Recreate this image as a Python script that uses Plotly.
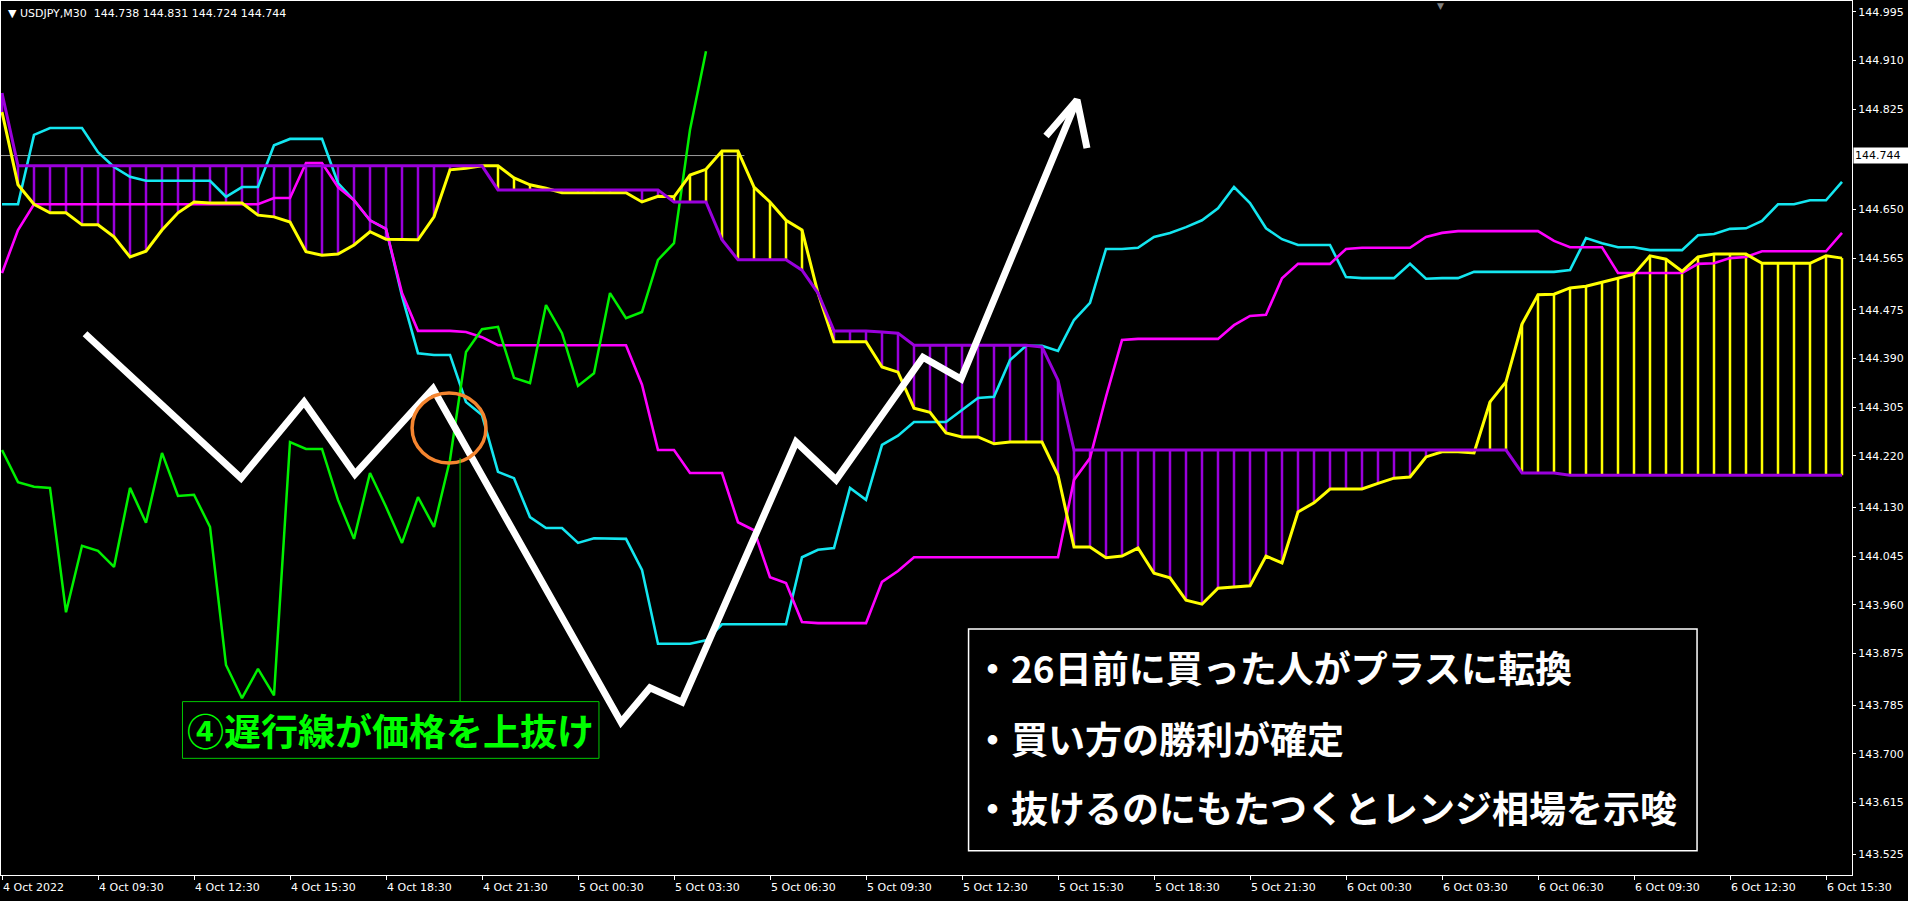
import plotly.graph_objects as go

# ---------------- data ----------------
bars = list(range(116))

tenkan = [
    144.659, 144.659, 144.780, 144.792, 144.792, 144.792, 144.750, 144.724, 144.707, 144.700,
    144.700, 144.700, 144.700, 144.700, 144.672, 144.689, 144.689, 144.762, 144.773, 144.773,
    144.773, 144.696, 144.666, 144.631, 144.616, 144.499, 144.399, 144.396, 144.396, 144.314,
    144.291, 144.192, 144.181, 144.113, 144.094, 144.094, 144.068, 144.076, 144.076, 144.075,
    144.021, 143.892, 143.892, 143.892, 143.898, 143.926, 143.926, 143.926, 143.926, 143.926,
    144.043, 144.056, 144.059, 144.164, 144.143, 144.239, 144.255, 144.279, 144.279, 144.279,
    144.300, 144.321, 144.323, 144.387, 144.412, 144.412, 144.403, 144.457, 144.487, 144.581,
    144.581, 144.583, 144.602, 144.609, 144.619, 144.631, 144.652, 144.689, 144.661, 144.617,
    144.598, 144.588, 144.588, 144.588, 144.532, 144.530, 144.530, 144.530, 144.555, 144.529,
    144.530, 144.530, 144.541, 144.541, 144.541, 144.541, 144.541, 144.541, 144.544, 144.600,
    144.591, 144.584, 144.584, 144.579, 144.579, 144.579, 144.605, 144.607, 144.616, 144.617,
    144.630, 144.659, 144.659, 144.666, 144.666, 144.698,
]

kijun = [
    144.539, 144.614, 144.659, 144.659, 144.659, 144.659, 144.659, 144.659, 144.659, 144.659,
    144.659, 144.659, 144.659, 144.659, 144.659, 144.659, 144.659, 144.670, 144.670, 144.731,
    144.731, 144.689, 144.666, 144.631, 144.616, 144.504, 144.438, 144.438, 144.438, 144.436,
    144.427, 144.413, 144.413, 144.413, 144.413, 144.413, 144.413, 144.413, 144.413, 144.413,
    144.344, 144.230, 144.230, 144.190, 144.190, 144.190, 144.104, 144.090, 144.008, 143.998,
    143.930, 143.928, 143.928, 143.928, 143.928, 144.000, 144.019, 144.043, 144.043, 144.043,
    144.043, 144.043, 144.043, 144.043, 144.043, 144.043, 144.043, 144.178, 144.216, 144.323,
    144.422, 144.424, 144.424, 144.424, 144.424, 144.424, 144.424, 144.448, 144.464, 144.466,
    144.530, 144.555, 144.555, 144.555, 144.581, 144.583, 144.583, 144.583, 144.583, 144.602,
    144.609, 144.612, 144.612, 144.612, 144.612, 144.612, 144.612, 144.595, 144.584, 144.584,
    144.584, 144.539, 144.539, 144.539, 144.539, 144.539, 144.555, 144.556, 144.565, 144.567,
    144.577, 144.577, 144.577, 144.577, 144.577, 144.609,
]

span_a = [
    144.820, 144.693, 144.659, 144.644, 144.644, 144.623, 144.623, 144.602, 144.567, 144.577,
    144.614, 144.644, 144.663, 144.661, 144.661, 144.661, 144.640, 144.637, 144.628, 144.576,
    144.570, 144.572, 144.588, 144.611, 144.598, 144.597, 144.597, 144.637, 144.719, 144.722,
    144.726, 144.726, 144.705, 144.693, 144.687, 144.679, 144.679, 144.679, 144.679, 144.679,
    144.663, 144.673, 144.672, 144.710, 144.720, 144.752, 144.752, 144.689, 144.663, 144.631,
    144.614, 144.504, 144.419, 144.419, 144.419, 144.375, 144.366, 144.303, 144.296, 144.260,
    144.253, 144.253, 144.241, 144.244, 144.244, 144.244, 144.186, 144.061, 144.061, 144.042,
    144.045, 144.059, 144.015, 144.007, 143.968, 143.961, 143.989, 143.991, 143.993, 144.045,
    144.033, 144.122, 144.138, 144.162, 144.162, 144.162, 144.172, 144.181, 144.183, 144.218,
    144.227, 144.227, 144.225, 144.314, 144.349, 144.450, 144.501, 144.502, 144.513, 144.516,
    144.523, 144.530, 144.537, 144.569, 144.563, 144.542, 144.567, 144.572, 144.572, 144.572,
    144.556, 144.556, 144.556, 144.556, 144.569, 144.565,
]

span_b = [
    144.853, 144.726, 144.726, 144.726, 144.726, 144.726, 144.726, 144.726, 144.726, 144.726,
    144.726, 144.726, 144.726, 144.726, 144.726, 144.726, 144.726, 144.726, 144.726, 144.726,
    144.726, 144.726, 144.726, 144.726, 144.726, 144.726, 144.726, 144.726, 144.726, 144.726,
    144.726, 144.684, 144.684, 144.684, 144.684, 144.684, 144.684, 144.684, 144.684, 144.684,
    144.684, 144.684, 144.663, 144.663, 144.663, 144.597, 144.562, 144.562, 144.562, 144.562,
    144.544, 144.504, 144.438, 144.438, 144.438, 144.436, 144.434, 144.413, 144.413, 144.413,
    144.413, 144.413, 144.413, 144.413, 144.413, 144.410, 144.352, 144.230, 144.230, 144.230,
    144.230, 144.230, 144.230, 144.230, 144.230, 144.230, 144.230, 144.230, 144.230, 144.230,
    144.230, 144.230, 144.230, 144.230, 144.230, 144.230, 144.230, 144.230, 144.230, 144.230,
    144.230, 144.230, 144.230, 144.230, 144.230, 144.190, 144.190, 144.190, 144.186, 144.186,
    144.186, 144.186, 144.186, 144.186, 144.186, 144.186, 144.186, 144.186, 144.186, 144.186,
    144.186, 144.186, 144.186, 144.186, 144.186, 144.186,
]

chikou_bars = list(range(45))
chikou = [
    144.230, 144.174, 144.166, 144.164, 143.947, 144.063, 144.054, 144.026, 144.164, 144.103,
    144.225, 144.150, 144.152, 144.096, 143.855, 143.797, 143.848, 143.802, 144.244, 144.232,
    144.232, 144.143, 144.075, 144.190, 144.131, 144.068, 144.148, 144.096, 144.213, 144.401,
    144.441, 144.445, 144.356, 144.347, 144.483, 144.434, 144.342, 144.364, 144.504, 144.460,
    144.471, 144.562, 144.591, 144.789, 144.926,
]

# hand-drawn white arrow (bar index, price)
arrow_bars = [5.19, 14.94, 18.88, 22.06, 26.94, 38.69, 40.50, 42.50, 49.63, 52.13, 57.56, 59.94, 67.19]
arrow_prices = [144.433, 144.181, 144.314, 144.188, 144.337, 143.755, 143.815, 143.790,
                144.244, 144.178, 144.392, 144.354, 144.841]
arrowhead_bars = [65.25, 67.19, 67.81]
arrowhead_prices = [144.778, 144.841, 144.757]

xtick_bars = [0, 6, 12, 18, 24, 30, 36, 42, 48, 54, 60, 66, 72, 78, 84, 90, 96, 102, 108, 114]
xtick_labels = ["4 Oct 2022", "4 Oct 09:30", "4 Oct 12:30", "4 Oct 15:30", "4 Oct 18:30",
                "4 Oct 21:30", "5 Oct 00:30", "5 Oct 03:30", "5 Oct 06:30", "5 Oct 09:30",
                "5 Oct 12:30", "5 Oct 15:30", "5 Oct 18:30", "5 Oct 21:30", "6 Oct 00:30",
                "6 Oct 03:30", "6 Oct 06:30", "6 Oct 09:30", "6 Oct 12:30", "6 Oct 15:30"]
ytick_vals = [144.995, 144.910, 144.825, 144.650, 144.565, 144.475, 144.390, 144.305, 144.220,
              144.130, 144.045, 143.960, 143.875, 143.785, 143.700, 143.615, 143.525]
ytick_labels = ["144.995", "144.910", "144.825", "144.650", "144.565", "144.475", "144.390",
                "144.305", "144.220", "144.130", "144.045", "143.960", "143.875", "143.785",
                "143.700", "143.615", "143.525"]

bid_price = 144.744
header_text = "▼ USDJPY,M30  144.738 144.831 144.724 144.744"
label_text = "④遅行線が価格を上抜け"
note_lines = ["・26日前に買った人がプラスに転換", "・買い方の勝利が確定", "・抜けるのにもたつくとレンジ相場を示唆"]

# ---------------- styles ----------------
C_TENKAN = "#14E6F0"
C_KIJUN = "#FF00FF"
C_SPAN_A = "#FFFF00"
C_SPAN_B = "#9A00DC"
C_CHIKOU = "#00F000"
AX_FONT = dict(family="DejaVu Sans", size=11, color="#FFFFFF")
JP_FONT = "Noto Sans CJK JP"

fig = go.Figure()

# cloud hatching (one vertical stroke per bar)
hx_a, hy_a, hx_b, hy_b = [], [], [], []
for i, a, b in zip(bars, span_a, span_b):
    if a >= b:
        hx_a += [i, i, None]
        hy_a += [a, b, None]
    else:
        hx_b += [i, i, None]
        hy_b += [a, b, None]
fig.add_trace(go.Scatter(x=hx_b, y=hy_b, mode="lines", line=dict(color=C_SPAN_B, width=2.5),
                         hoverinfo="skip", showlegend=False))
fig.add_trace(go.Scatter(x=hx_a, y=hy_a, mode="lines", line=dict(color=C_SPAN_A, width=2.5),
                         hoverinfo="skip", showlegend=False))

fig.add_trace(go.Scatter(x=bars, y=tenkan, mode="lines", line=dict(color=C_TENKAN, width=2.6),
                         name="Tenkan", showlegend=False))
fig.add_trace(go.Scatter(x=bars, y=kijun, mode="lines", line=dict(color=C_KIJUN, width=2.6),
                         name="Kijun", showlegend=False))
fig.add_trace(go.Scatter(x=chikou_bars, y=chikou, mode="lines", line=dict(color=C_CHIKOU, width=2.5),
                         name="Chikou", showlegend=False))
fig.add_trace(go.Scatter(x=bars, y=span_a, mode="lines", line=dict(color=C_SPAN_A, width=3),
                         name="Senkou A", showlegend=False))
fig.add_trace(go.Scatter(x=bars, y=span_b, mode="lines", line=dict(color=C_SPAN_B, width=3),
                         name="Senkou B", showlegend=False))

# white drawn arrow
fig.add_trace(go.Scatter(x=arrow_bars, y=arrow_prices, mode="lines",
                         line=dict(color="#FFFFFF", width=7), hoverinfo="skip", showlegend=False))
fig.add_trace(go.Scatter(x=arrowhead_bars, y=arrowhead_prices, mode="lines",
                         line=dict(color="#FFFFFF", width=7), hoverinfo="skip", showlegend=False))

shapes = [
    # gray horizontal line at the current price
    dict(type="line", xref="x", yref="y", x0=-0.0625, x1=46.4, y0=bid_price, y1=bid_price,
         line=dict(color="#9A9A9A", width=1), layer="below"),
    # orange circle
    dict(type="circle", xref="x", yref="y", x0=25.63, x1=30.25, y0=144.2074, y1=144.3295,
         line=dict(color="#F5852F", width=3.5)),
    # green leader line
    dict(type="line", xref="x", yref="y", x0=28.63, x1=28.63, y0=143.792, y1=144.216,
         line=dict(color="#00D000", width=1)),
    # green label box
    dict(type="rect", xref="x", yref="y", x0=11.28, x1=37.31, y0=143.692, y1=143.791,
         line=dict(color="#00C800", width=1), fillcolor="rgba(0,0,0,0)"),
    # white text box
    dict(type="rect", xref="x", yref="y", x0=60.41, x1=105.94, y0=143.5308, y1=143.9177,
         line=dict(color="#FFFFFF", width=1.5), fillcolor="rgba(0,0,0,0)"),
]

annotations = []
for xb, txt in zip(xtick_bars, xtick_labels):
    annotations.append(dict(x=xb, y=0, xref="x", yref="paper", text=txt, showarrow=False,
                            xanchor="left", yanchor="top", yshift=-4, xshift=-1, font=AX_FONT))
annotations.append(dict(x=0, y=1, xref="paper", yref="paper", text=header_text, showarrow=False,
                        xanchor="left", yanchor="top", xshift=5, yshift=-4, font=AX_FONT))
annotations.append(dict(x=1, y=bid_price, xref="paper", yref="y", text="144.744", showarrow=False,
                        xanchor="left", yanchor="middle", xshift=1, bgcolor="#FFFFFF",
                        font=dict(family="DejaVu Sans", size=11, color="#000000"), borderpad=1,
                        width=54, align="left"))
annotations.append(dict(x=89.9, y=1, xref="x", yref="paper", text="▼", showarrow=False,
                        yanchor="top", yshift=2, font=dict(family="DejaVu Sans", size=9, color="#808080")))
annotations.append(dict(x=24.29, y=143.7414, xref="x", yref="y", text="<b>" + label_text + "</b>",
                        showarrow=False, xanchor="center", yanchor="middle",
                        font=dict(family=JP_FONT, size=37, color="#00FF00")))
for yv, line in zip([143.8514, 143.7274, 143.6070], note_lines):
    annotations.append(dict(x=60.62, y=yv, xref="x", yref="y", text="<b>" + line + "</b>",
                            showarrow=False, xanchor="left", yanchor="middle",
                            font=dict(family=JP_FONT, size=37, color="#FFFFFF")))

fig.update_layout(
    width=1908, height=901, autosize=False,
    margin=dict(l=1, r=56, t=1, b=26, pad=0),
    paper_bgcolor="#000000", plot_bgcolor="#000000",
    showlegend=False,
    shapes=shapes, annotations=annotations,
    xaxis=dict(range=[-0.0625, 115.625], showgrid=False, zeroline=False,
               showline=True, linecolor="#FFFFFF", linewidth=1, mirror=True,
               tickmode="array", tickvals=xtick_bars, ticks="outside", ticklen=4,
               tickcolor="#FFFFFF", showticklabels=False, fixedrange=True),
    yaxis=dict(range=[143.4884, 145.0137], side="right", showgrid=False, zeroline=False,
               showline=True, linecolor="#FFFFFF", linewidth=1, mirror=True,
               tickmode="array", tickvals=ytick_vals, ticktext=ytick_labels,
               ticks="outside", ticklen=3, tickcolor="#FFFFFF", tickfont=AX_FONT,
               ticklabeloverflow="allow", fixedrange=True),
)

fig.write_html("out.html", config={"displayModeBar": False},
               post_script="document.body.style.margin='0';document.body.style.overflow='hidden';")
